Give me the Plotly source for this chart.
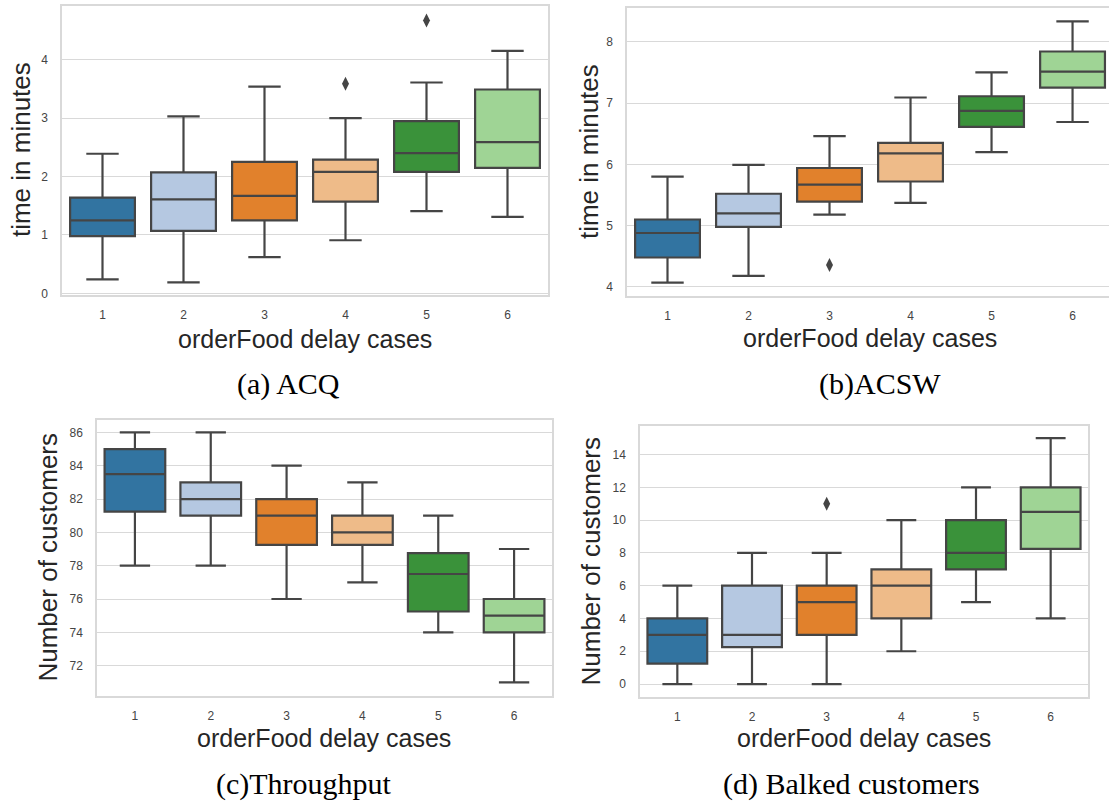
import plotly.graph_objects as go

cases = ["1", "2", "3", "4", "5", "6"]
colors = ["#3274a1", "#b5c8e1", "#e1812c", "#eebb89", "#3a923a", "#9fd495"]

# (a) ACQ
acq_lo = [0.24, 0.19, 0.62, 0.91, 1.41, 1.31]
acq_q1 = [0.98, 1.07, 1.25, 1.57, 2.08, 2.15]
acq_med = [1.25, 1.61, 1.67, 2.08, 2.40, 2.59]
acq_q3 = [1.64, 2.07, 2.25, 2.29, 2.95, 3.49]
acq_hi = [2.39, 3.03, 3.54, 3.00, 3.61, 4.15]
acq_out_x = ["4", "5"]
acq_out_y = [3.59, 4.67]

# (b) ACSW
acsw_lo = [4.07, 4.18, 5.18, 5.37, 6.20, 6.69]
acsw_q1 = [4.48, 4.98, 5.39, 5.72, 6.61, 7.25]
acsw_med = [4.88, 5.20, 5.67, 6.18, 6.87, 7.51]
acsw_q3 = [5.10, 5.52, 5.94, 6.35, 7.11, 7.84]
acsw_hi = [5.80, 5.99, 6.46, 7.09, 7.50, 8.33]
acsw_out_x = ["3"]
acsw_out_y = [4.36]

# (c) Throughput
thr_lo = [78, 78, 76, 77, 74, 71]
thr_q1 = [81.25, 81, 79.25, 79.25, 75.25, 74]
thr_med = [83.5, 82, 81, 80, 77.5, 75]
thr_q3 = [85, 83, 82, 81, 78.75, 76]
thr_hi = [86, 86, 84, 83, 81, 79]
thr_out_x = []
thr_out_y = []

# (d) Balked customers
balk_lo = [0, 0, 0, 2, 5, 4]
balk_q1 = [1.25, 2.25, 3, 4, 7, 8.25]
balk_med = [3, 3, 5, 6, 8, 10.5]
balk_q3 = [4, 6, 6, 7, 10, 12]
balk_hi = [6, 8, 8, 10, 12, 15]
balk_out_x = ["3"]
balk_out_y = [11]

x_title = "orderFood delay cases"
y_titles = ["time in minutes", "time in minutes", "Number of customers", "Number of customers"]
captions = ["(a) ACQ", "(b)ACSW", "(c)Throughput", "(d) Balked customers"]

W, H = 1109, 808

def px_x(v):
    return v / W

def px_y(v):
    return 1 - v / H

# frames in pixels: (left, top, right, bottom)
frames = [(62, 6, 548, 297), (627, 8, 1109, 298), (97, 423, 552, 700), (640, 429, 1088, 701)]
x_ranges = [[-0.5, 5.5], [-0.5, 5.45], [-0.5, 5.5], [-0.5, 5.5]]
y_ranges = [[-0.03, 4.92], [3.85, 8.55], [70.2, 86.72], [-0.77, 15.72]]
y_ticks = [[0, 1, 2, 3, 4], [4, 5, 6, 7, 8], [72, 74, 76, 78, 80, 82, 84, 86], [0, 2, 4, 6, 8, 10, 12, 14]]

panels = [
    (acq_lo, acq_q1, acq_med, acq_q3, acq_hi, acq_out_x, acq_out_y),
    (acsw_lo, acsw_q1, acsw_med, acsw_q3, acsw_hi, acsw_out_x, acsw_out_y),
    (thr_lo, thr_q1, thr_med, thr_q3, thr_hi, thr_out_x, thr_out_y),
    (balk_lo, balk_q1, balk_med, balk_q3, balk_hi, balk_out_x, balk_out_y),
]

edge = "#454545"
grid = "#d9d9d9"
fig = go.Figure()

for p, (lo, q1, med, q3, hi, ox, oy) in enumerate(panels):
    xa = "x" if p == 0 else f"x{p+1}"
    ya = "y" if p == 0 else f"y{p+1}"
    for i, c in enumerate(cases):
        fig.add_trace(go.Box(
            x=[c], lowerfence=[lo[i]], q1=[q1[i]], median=[med[i]], q3=[q3[i]], upperfence=[hi[i]],
            width=0.8, whiskerwidth=0.5, fillcolor=colors[i],
            line=dict(color=edge, width=2.2), boxpoints=False,
            showlegend=False, hoverinfo="skip", xaxis=xa, yaxis=ya,
        ))
    if ox:
        fig.add_trace(go.Scatter(
            x=ox, y=oy, mode="markers",
            marker=dict(symbol="diamond-tall", size=10, color=edge),
            showlegend=False, hoverinfo="skip", xaxis=xa, yaxis=ya,
        ))

layout = dict(
    width=W, height=H, margin=dict(l=0, r=0, t=0, b=0),
    paper_bgcolor="white", plot_bgcolor="white", boxmode="overlay",
    font=dict(family="Liberation Sans, Arial, sans-serif", color="#262626"),
)

tickfont = dict(family="Liberation Sans, Arial, sans-serif", size=12, color="#444444")
for p in range(4):
    l, t, r, b = frames[p]
    key = "" if p == 0 else str(p + 1)
    layout["xaxis" + key] = dict(
        domain=[px_x(l), px_x(r)], anchor="y" + key, type="category",
        categoryorder="array", categoryarray=cases,
        range=x_ranges[p], showgrid=False, zeroline=False,
        showline=True, linecolor=grid, linewidth=1.5, mirror=True,
        ticks="", ticklabelstandoff=8, tickfont=tickfont, fixedrange=True,
    )
    layout["yaxis" + key] = dict(
        domain=[px_y(b), px_y(t)], anchor="x" + key,
        range=y_ranges[p], tickvals=y_ticks[p], showgrid=True, gridcolor=grid, gridwidth=1.3,
        zeroline=False, showline=True, linecolor=grid, linewidth=1.5,
        mirror=(p != 1), ticks="", ticklabelstandoff=10, tickfont=tickfont, fixedrange=True,
    )

fig.update_layout(**layout)

# axis titles and captions
xt_pos = [(305, 341), (870, 340), (324, 743), (864, 743)]
yt_pos = [(21, 151), (589, 153), (48, 561), (591, 565)]
cap_pos = [(288, 386), (880, 386), (304, 789), (851, 789)]

for p in range(4):
    fig.add_annotation(x=px_x(xt_pos[p][0]), y=px_y(xt_pos[p][1]), xref="paper", yref="paper",
                       text=x_title, showarrow=False, xanchor="center", yanchor="middle",
                       font=dict(family="Liberation Sans, Arial, sans-serif", size=25, color="#262626"))
    fig.add_annotation(x=px_x(yt_pos[p][0]), y=px_y(yt_pos[p][1]), xref="paper", yref="paper",
                       text=y_titles[p], showarrow=False, textangle=-90, xanchor="center", yanchor="middle",
                       font=dict(family="Liberation Sans, Arial, sans-serif", size=26, color="#262626"))
    fig.add_annotation(x=px_x(cap_pos[p][0]), y=px_y(cap_pos[p][1]), xref="paper", yref="paper",
                       text=captions[p], showarrow=False, xanchor="center", yanchor="middle",
                       font=dict(family="Liberation Serif, Times New Roman, serif", size=30, color="#000000"))

fig.write_html("out.html")
